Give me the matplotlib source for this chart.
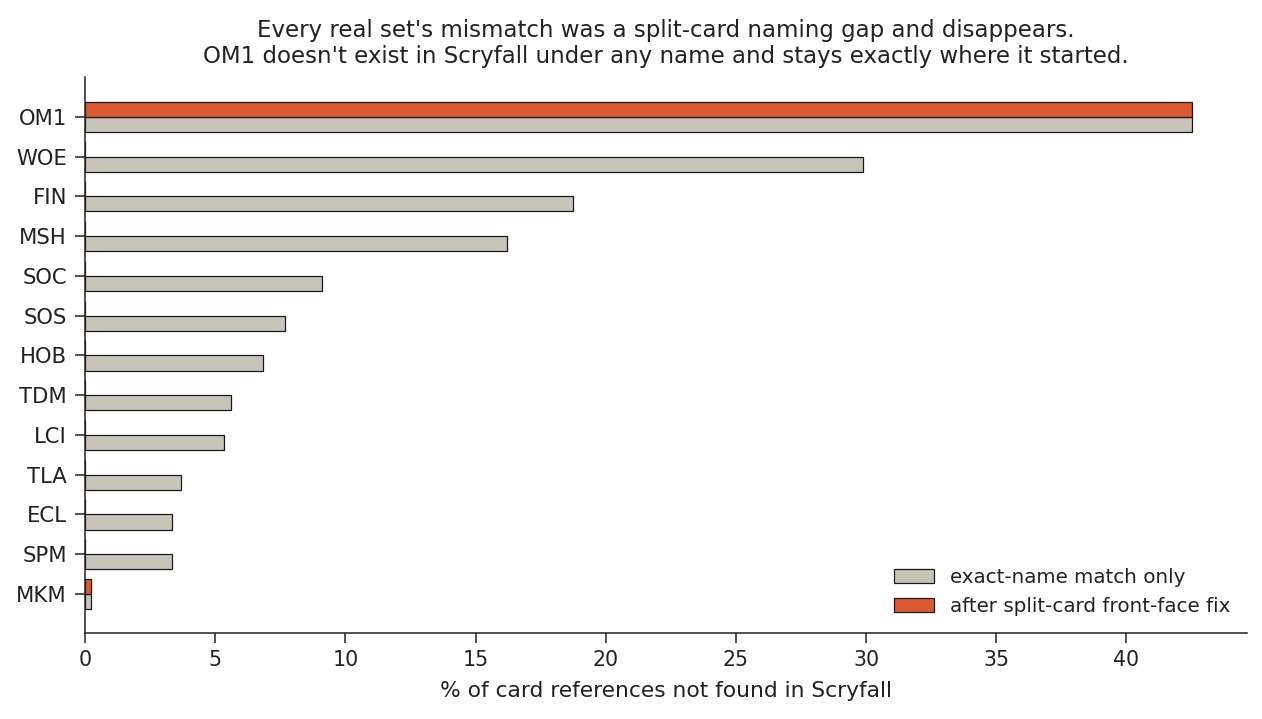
import matplotlib
matplotlib.use("Agg")
import matplotlib.pyplot as plt
import numpy as np

sets = ["OM1", "WOE", "FIN", "MSH", "SOC", "SOS", "HOB", "TDM", "LCI", "TLA", "ECL", "SPM", "MKM"]
exact_only = [42.5, 29.87, 18.76, 16.2, 9.09, 7.67, 6.83, 5.6, 5.33, 3.68, 3.33, 3.33, 0.22]
after_fix = [42.5, 0, 0, 0, 0, 0, 0, 0, 0, 0, 0, 0, 0.22]

GREY = "#c8c4b7"
ORANGE = "#d95b33"
EDGE = "#1a1a1a"
INK = "#222222"

plt.rcParams["text.color"] = INK
plt.rcParams["axes.labelcolor"] = INK
plt.rcParams["xtick.color"] = INK
plt.rcParams["ytick.color"] = INK
plt.rcParams["axes.edgecolor"] = INK

fig = plt.figure(figsize=(12.62, 7.19), dpi=100)
ax = fig.add_axes([0.0674, 0.1196, 0.9206, 0.7733])

y = np.arange(len(sets))
h = 0.38
ax.barh(y + h / 2, exact_only, height=h, color=GREY, edgecolor=EDGE, linewidth=0.9,
        label="exact-name match only")
ax.barh(y - h / 2, after_fix, height=h, color=ORANGE, edgecolor=EDGE, linewidth=0.9,
        label="after split-card front-face fix")

ax.set_yticks(y)
ax.set_yticklabels(sets)
ax.set_ylim(12.98, -1.0)
ax.set_xlim(0, 42.5 * 1.05)
ax.tick_params(axis="x", labelsize=14.8, length=7, width=1.1, pad=5)
ax.tick_params(axis="y", labelsize=15.2, length=7, width=1.1, pad=6)
ax.spines["top"].set_visible(False)
ax.spines["right"].set_visible(False)
ax.spines["left"].set_linewidth(1.1)
ax.spines["bottom"].set_linewidth(1.1)

ax.set_xlabel("% of card references not found in Scryfall", fontsize=15.7, labelpad=8)
ax.set_title("Every real set's mismatch was a split-card naming gap and disappears.\n"
             "OM1 doesn't exist in Scryfall under any name and stays exactly where it started.",
             fontsize=16.5, pad=10, linespacing=1.2)
ax.legend(loc="lower right", frameon=False, fontsize=14.3, handlelength=2.0,
          borderaxespad=0.45)

fig.savefig("out.png", dpi=100)
